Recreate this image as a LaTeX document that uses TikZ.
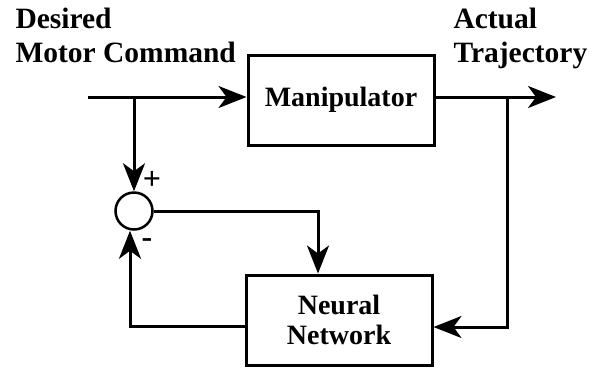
\documentclass[tikz,border=0pt]{standalone}
\usepackage{fontspec}
\setmainfont{Liberation Serif}
\usetikzlibrary{arrows.meta}

\begin{document}
\begin{tikzpicture}[x=1pt, y=-1pt, line width=3pt,
	every node/.style={font=\bfseries\fontsize{28}{33}\selectfont},
	block/.style={draw, minimum width=186pt, minimum height=90pt, align=center},
	sumnode/.style={circle, draw, line width=2.5pt, minimum size=37pt, inner sep=0pt},
	label/.style={align=left, anchor=north west, inner sep=0pt, font=\bfseries\fontsize{29.5}{34}\selectfont},
	sign/.style={font=\bfseries\fontsize{32}{32}\selectfont, inner sep=0pt},
	arr/.style={-{Stealth[length=28pt, width=22pt, inset=8pt]}}]
	\useasboundingbox (0,0) rectangle (593,368);
	% blocks
	\node[block] (manip) at (341,100) {Manipulator};
	\node[block, font=\bfseries\fontsize{28}{30}\selectfont] (nn) at (339,320) {Neural\\Network};
	\node[sumnode] (sum) at (134,211) {};
	% labels
	\node[label] (cmd) at (14,7) {Desired\\Motor Command};
	\node[label] (traj) at (452,7) {Actual\\Trajectory};
	\node[sign] (plus) at (152,180) {+};
	\node[sign] (minus) at (147,243) {-};
	% signal points
	\coordinate (in) at (88,97);
	\coordinate (split) at (134,97);
	\coordinate (out) at (556,97);
	\coordinate (tap) at (507,97);
	\coordinate (fb) at (507,327);
	% forward path
	\draw[arr] (in) -- (in -| manip.west);
	\draw[arr] (in -| manip.east) -- (out);
	\draw[arr] (split) -- (sum.north);
	% neural network loop
	\draw[arr] (sum.east) -| ([xshift=-21pt]nn.north);
	\draw[arr] (tap) -- (fb) -- (fb -| nn.east);
	\draw[arr] ([yshift=-6pt]nn.west) -| ([xshift=-4pt]sum.south);
\end{tikzpicture}
\end{document}
